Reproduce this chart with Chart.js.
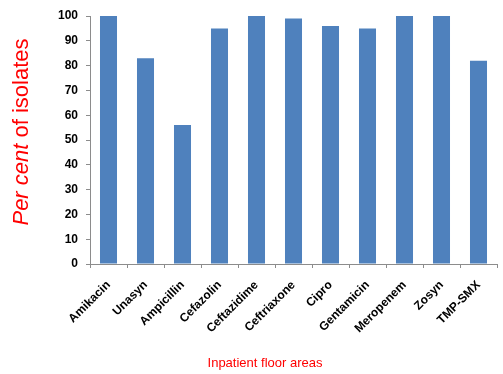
<!DOCTYPE html>
<html>
<head>
<meta charset="utf-8">
<script src="https://cdn.jsdelivr.net/npm/chart.js@4"></script>
<style>
  html, body { margin: 0; padding: 0; background: #fff; }
  #wrap { width: 503px; height: 374px; }
</style>
</head>
<body>
<div id="wrap"><canvas id="c" width="503" height="374"></canvas></div>
<script>
const categories = ["Amikacin", "Unasyn", "Ampicillin", "Cefazolin", "Ceftazidime", "Ceftriaxone", "Cipro", "Gentamicin", "Meropenem", "Zosyn", "TMP-SMX"];
const susceptible = [100, 83, 56, 95, 100, 99, 96, 95, 100, 100, 82];
const yTicks = [0, 10, 20, 30, 40, 50, 60, 70, 80, 90, 100];
const yTitleItalic = "Per cent";
const yTitleRest = " of isolates";
const xTitle = "Inpatient floor areas";

// Axis titles: the y title mixes italic and upright text, so both are painted here.
const axisTitles = {
  id: 'axisTitles',
  afterDraw(chart) {
    const ctx = chart.ctx;
    ctx.save();
    ctx.fillStyle = '#ff0000';
    ctx.textBaseline = 'middle';
    // y title
    const fItalic = 'italic 22px "Liberation Sans", Arial, sans-serif';
    const fNormal = '22px "Liberation Sans", Arial, sans-serif';
    ctx.font = fItalic;
    const w1 = ctx.measureText(yTitleItalic).width;
    ctx.font = fNormal;
    const w2 = ctx.measureText(yTitleRest).width;
    const total = w1 + w2;
    ctx.translate(22, 132);
    ctx.rotate(-Math.PI / 2);
    ctx.textAlign = 'left';
    ctx.font = fItalic;
    ctx.fillText(yTitleItalic, -total / 2, 0);
    ctx.font = fNormal;
    ctx.fillText(yTitleRest, -total / 2 + w1, 0);
    ctx.restore();
    // x title
    ctx.save();
    ctx.fillStyle = '#ff0000';
    ctx.font = '13px "Liberation Sans", Arial, sans-serif';
    ctx.textAlign = 'center';
    ctx.textBaseline = 'middle';
    ctx.fillText(xTitle, 265, 363);
    ctx.restore();
  }
};

new Chart(document.getElementById('c'), {
  type: 'bar',
  data: {
    labels: categories,
    datasets: [{
      data: susceptible,
      backgroundColor: '#4F81BD',
      borderWidth: 0,
      categoryPercentage: 1.0,
      barPercentage: 0.46
    }]
  },
  options: {
    responsive: false,
    animation: false,
    layout: { padding: { left: 0, right: 6, top: 16, bottom: 0 } },
    plugins: { legend: { display: false }, tooltip: { enabled: false } },
    scales: {
      x: {
        grid: { display: true, drawOnChartArea: false, drawTicks: true, tickLength: 4, color: '#8c8c8c', offset: true },
        border: { display: true, color: '#8c8c8c', width: 1 },
        ticks: {
          color: '#000',
          font: { family: '"Liberation Sans", Arial, sans-serif', size: 12, weight: 'bold' },
          maxRotation: 45, minRotation: 45, autoSkip: false, padding: 10
        },
        afterFit(scale) { scale.height = 110; }
      },
      y: {
        min: 0, max: 100,
        afterBuildTicks(scale) { scale.ticks = yTicks.map(v => ({ value: v })); },
        grid: { display: true, drawOnChartArea: false, drawTicks: true, tickLength: 4, color: '#8c8c8c' },
        border: { display: true, color: '#8c8c8c', width: 1 },
        ticks: {
          color: '#000',
          font: { family: '"Liberation Sans", Arial, sans-serif', size: 12, weight: 'bold' },
          padding: 8
        },
        afterFit(scale) { scale.width = 90; }
      }
    }
  },
  plugins: [axisTitles]
});
</script>
</body>
</html>
